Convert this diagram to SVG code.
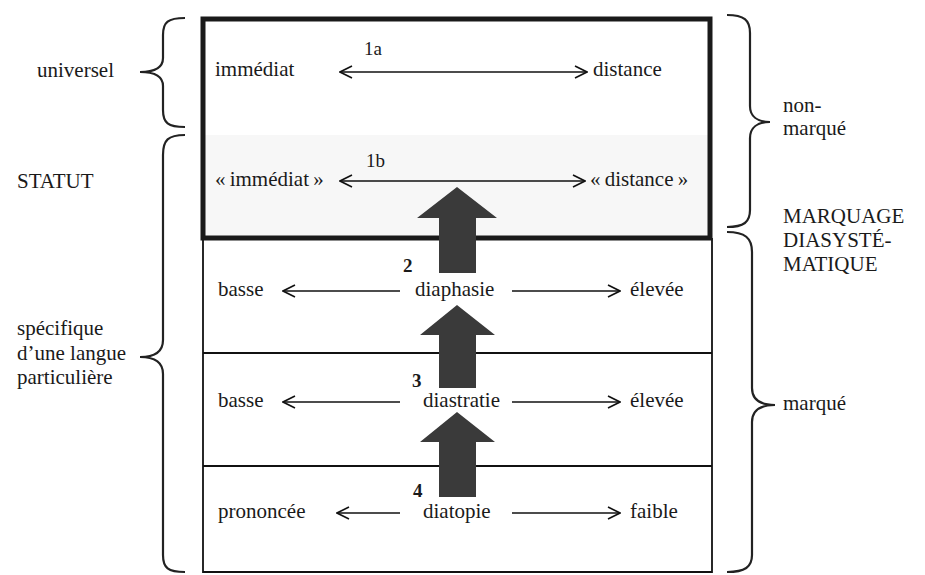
<svg xmlns="http://www.w3.org/2000/svg" width="925" height="575" viewBox="0 0 925 575">
<style>
text{font-family:"Liberation Serif","Noto Serif","DejaVu Serif","Times New Roman",Times,serif;font-size:21px;fill:#1a1a1a}
.num{font-size:19px}
.b{font-weight:bold;font-size:19px}
.brace{fill:none;stroke:#222;stroke-width:2.2}
.conn{fill:none;stroke:#111;stroke-width:1.6}
.big{fill:#3a3a3a}
.frame{fill:none;stroke:#111;stroke-width:1.8}
</style>
<defs>
<marker id="ah" viewBox="0 0 14 14" refX="13" refY="7" markerWidth="14" markerHeight="14" markerUnits="userSpaceOnUse" orient="auto-start-reverse">
<polyline points="1,1 13,7 1,13" fill="none" stroke="#111" stroke-width="1.6"/>
</marker>
</defs>
<rect width="925" height="575" fill="#fff"/>
<g id="lower-box">
<line class="frame" x1="203" y1="238" x2="203" y2="573"/>
<line class="frame" x1="712" y1="238" x2="712" y2="573"/>
<line class="frame" x1="203" y1="353" x2="712" y2="353"/>
<line class="frame" x1="203" y1="466" x2="712" y2="466"/>
<line class="frame" x1="203" y1="572" x2="712" y2="572"/>
</g>
<g id="top-box">
<rect x="203" y="135" width="507" height="103" fill="#f7f7f7"/>
<rect x="203" y="19" width="507" height="219" fill="none" stroke="#1a1a1a" stroke-width="5"/>
</g>
<g id="big-arrows">
<polygon id="arrow1" class="big" points="457,187 497,218 476,218 476,273 439,273 439,218 417,218"/>
<polygon id="arrow2" class="big" points="457,305 495,335 476,335 476,388 439,388 439,335 420,335"/>
<polygon id="arrow3" class="big" points="457,412 495,442 476,442 476,497 439,497 439,442 420,442"/>
</g>
<g id="connectors">
<line class="conn" x1="340" y1="72" x2="587" y2="72" marker-start="url(#ah)" marker-end="url(#ah)"/>
<line class="conn" x1="340" y1="181" x2="585" y2="181" marker-start="url(#ah)" marker-end="url(#ah)"/>
<line class="conn" x1="400" y1="291" x2="283" y2="291" marker-end="url(#ah)"/>
<line class="conn" x1="512" y1="291" x2="620" y2="291" marker-end="url(#ah)"/>
<line class="conn" x1="400" y1="402" x2="283" y2="402" marker-end="url(#ah)"/>
<line class="conn" x1="512" y1="402" x2="620" y2="402" marker-end="url(#ah)"/>
<line class="conn" x1="400" y1="513" x2="337" y2="513" marker-end="url(#ah)"/>
<line class="conn" x1="512" y1="513" x2="620" y2="513" marker-end="url(#ah)"/>
</g>
<g id="row-1a">
<text x="215" y="76">immédiat</text>
<text class="num" x="364" y="55">1a</text>
<text x="593" y="76">distance</text>
</g>
<g id="row-1b">
<text x="215" y="186">«&#8239;immédiat&#8239;»</text>
<text class="num" x="366" y="167">1b</text>
<text x="590" y="186">«&#8239;distance&#8239;»</text>
</g>
<g id="row-2">
<text x="218" y="296">basse</text>
<text class="b" x="403" y="272">2</text>
<text x="415" y="296">diaphasie</text>
<text x="630" y="296">élevée</text>
</g>
<g id="row-3">
<text x="218" y="407">basse</text>
<text class="b" x="412" y="387">3</text>
<text x="423" y="407">diastratie</text>
<text x="630" y="407">élevée</text>
</g>
<g id="row-4">
<text x="218" y="518">prononcée</text>
<text class="b" x="413" y="497">4</text>
<text x="423" y="518">diatopie</text>
<text x="630" y="518">faible</text>
</g>
<g id="brace-universel">
<path class="brace" d="M185,18 C168,18 163,22 163,35 L163,58 C163,68 155,72 140,72 C155,72 163,76 163,86 L163,110 C163,123 168,127 185,127"/>
<text x="37" y="77">universel</text>
</g>
<g id="statut">
<text x="17" y="188">STATUT</text>
</g>
<g id="brace-specifique">
<path class="brace" d="M185,135 C168,135 163,140 163,155 L163,340 C163,351 155,357 140,357 C155,357 163,363 163,374 L163,555 C163,568 168,572 185,572"/>
<text x="17" y="335">spécifique</text>
<text x="17" y="360">d’une langue</text>
<text x="17" y="384">particulière</text>
</g>
<g id="brace-non-marque">
<path class="brace" d="M727,15 C744,15 750,20 750,33 L750,106 C750,116 757,122 770,122 C757,122 750,128 750,138 L750,210 C750,222 744,227 727,227"/>
<text x="783" y="112">non-</text>
<text x="783" y="135">marqué</text>
</g>
<g id="marquage">
<text x="783" y="223">MARQUAGE</text>
<text x="783" y="247">DIASYSTÉ-</text>
<text x="783" y="271">MATIQUE</text>
</g>
<g id="brace-marque">
<path class="brace" d="M727,232 C745,232 752,238 752,252 L752,388 C752,399 760,405 775,405 C760,405 752,411 752,422 L752,555 C752,567 745,572 727,572"/>
<text x="783" y="410">marqué</text>
</g>
</svg>
